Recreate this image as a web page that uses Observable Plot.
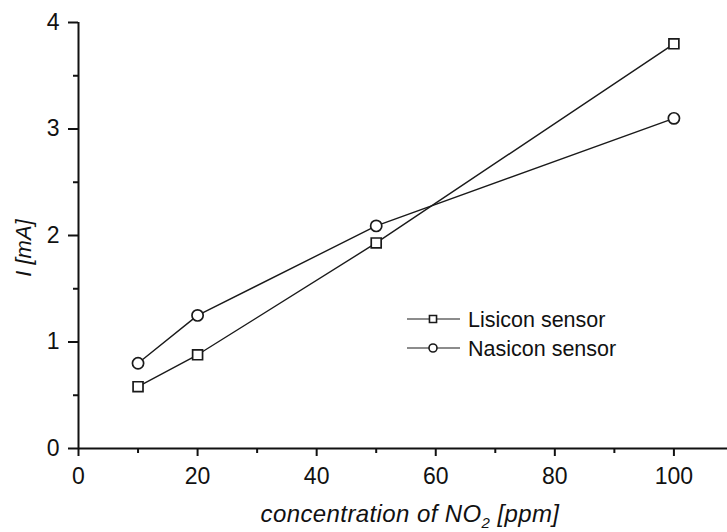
<!DOCTYPE html>
<html>
<head>
<meta charset="utf-8">
<script src="https://cdn.jsdelivr.net/npm/d3@7"></script>
<script src="https://cdn.jsdelivr.net/npm/@observablehq/plot@0.6"></script>
<style>
  html, body { margin: 0; padding: 0; background: #fff; }
  svg { display: block; }
</style>
</head>
<body>
<div id="chart"></div>
<script>
const concentrations = [10, 20, 50, 100];
const lisicon = [0.58, 0.88, 1.93, 3.8];
const nasicon = [0.80, 1.25, 2.09, 3.1];
const seriesNames = ["Lisicon sensor", "Nasicon sensor"];
const seriesSymbols = ["square", "circle"];
const xMajor = [0, 20, 40, 60, 80, 100];
const xMinor = [10, 30, 50, 70, 90];
const yMajor = [0, 1, 2, 3, 4];
const yMinor = [0.5, 1.5, 2.5, 3.5];
const xTitle = ["concentration of NO", "2", " [ppm]"];
const yTitle = "I [mA]";

const data = [
  ...concentrations.map((c, i) => ({series: seriesNames[0], symbol: seriesSymbols[0], x: c, y: lisicon[i]})),
  ...concentrations.map((c, i) => ({series: seriesNames[1], symbol: seriesSymbols[1], x: c, y: nasicon[i]}))
];
const legend = seriesNames.map((name, i) => ({name, symbol: seriesSymbols[i], i}));

const FONT = "'Liberation Sans', Arial, Helvetica, sans-serif";
const ink = "#1a1a1a";

function legendMark(index, scales, values, dimensions) {
  const g = d3.create("svg:g");
  const x0 = dimensions.marginLeft + 329;
  const y0 = dimensions.marginTop + 297;
  legend.forEach((d, k) => {
    const y = y0 + k * 29;
    g.append("line").attr("x1", x0).attr("x2", x0 + 53).attr("y1", y).attr("y2", y)
      .attr("stroke", ink).attr("stroke-width", 1.2);
    const sym = d.symbol === "square" ? d3.symbolSquare : d3.symbolCircle;
    g.append("path").attr("d", d3.symbol(sym, 50)())
      .attr("transform", `translate(${x0 + 26},${y})`)
      .attr("fill", "white").attr("stroke", ink).attr("stroke-width", 1.6);
    g.append("text").attr("x", x0 + 61).attr("y", y).attr("dy", "0.35em")
      .attr("text-anchor", "start")
      .attr("font-family", FONT).attr("font-size", 21.5).attr("fill", "#111")
      .text(d.name);
  });
  return g.node();
}

const plot = Plot.plot({
  width: 727,
  height: 532,
  marginLeft: 78,
  marginTop: 22,
  marginBottom: 84,
  marginRight: 0,
  style: {fontFamily: FONT, fontSize: "23px", background: "white", color: "#111"},
  x: {domain: [0, 109]},
  y: {domain: [0, 4]},
  marks: [
    Plot.axisX({ticks: xMajor, tickSize: 8, tickPadding: 11, tickFormat: d3.format("d"), label: null, strokeWidth: 2}),
    Plot.axisX({ticks: xMinor, tickSize: 5, tickFormat: () => "", label: null, strokeWidth: 2}),
    Plot.axisY({ticks: yMajor, tickSize: 10, tickPadding: 9, tickFormat: d3.format("d"), label: null, strokeWidth: 2}),
    Plot.axisY({ticks: yMinor, tickSize: 5, tickFormat: () => "", label: null, strokeWidth: 2}),
    Plot.ruleY([0], {stroke: "#111", strokeWidth: 2}),
    Plot.ruleX([0], {stroke: "#111", strokeWidth: 2}),
    Plot.line(data, {x: "x", y: "y", z: "series", stroke: ink, strokeWidth: 1.4}),
    Plot.dot(data.filter(d => d.symbol === "square"), {x: "x", y: "y", symbol: "square", r: 5.6, fill: "white", stroke: ink, strokeWidth: 1.7}),
    Plot.dot(data.filter(d => d.symbol === "circle"), {x: "x", y: "y", symbol: "circle", r: 5.6, fill: "white", stroke: ink, strokeWidth: 1.7}),
    legendMark
  ]
});

const svg = d3.select(plot);
const xt = svg.append("text")
  .attr("x", 410).attr("y", 522)
  .attr("text-anchor", "middle")
  .attr("font-family", FONT).attr("font-size", 24).attr("letter-spacing", 0.4)
  .attr("font-style", "italic").attr("fill", "#111");
xt.append("tspan").text(xTitle[0]);
xt.append("tspan").attr("font-size", 15).attr("dy", 6).text(xTitle[1]);
xt.append("tspan").attr("dy", -6).text(xTitle[2]);

svg.append("text")
  .attr("transform", "translate(31,248) rotate(-90)")
  .attr("text-anchor", "middle")
  .attr("font-family", FONT).attr("font-size", 22).attr("font-style", "italic").attr("fill", "#111")
  .text(yTitle);

document.getElementById("chart").appendChild(plot);
</script>
</body>
</html>
